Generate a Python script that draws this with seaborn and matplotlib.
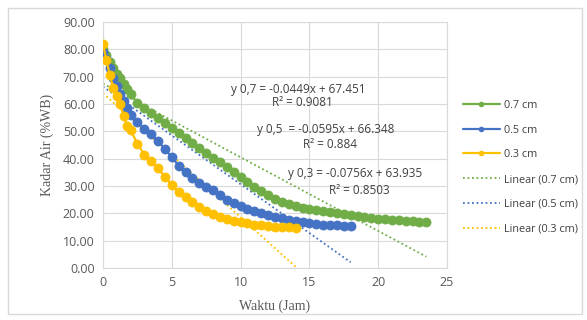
import numpy as np
import pandas as pd
import matplotlib
matplotlib.use("Agg")
import matplotlib.pyplot as plt
from matplotlib.lines import Line2D
from matplotlib.patches import Rectangle
import seaborn as sns

# ---------------------------------------------------------------
# data (time in hours, moisture in %WB)
# ---------------------------------------------------------------
SERIES = ["0.7 cm", "0.5 cm", "0.3 cm"]
COLORS = ["#70AD47", "#4472C4", "#FFC000"]

time_07 = [0, 0.25, 0.5, 0.75, 1, 1.25, 1.5, 1.75, 2, 2.5, 3, 3.5, 4, 4.5, 5, 5.5, 6, 6.5,
           7, 7.5, 8, 8.5, 9, 9.5, 10, 10.5, 11, 11.5, 12, 12.5, 13, 13.5, 14, 14.5, 15,
           15.5, 16, 16.5, 17, 17.5, 18, 18.5, 19, 19.5, 20, 20.5, 21, 21.5, 22, 22.5,
           23, 23.5]
kadar_07 = [80, 78, 75.5, 73, 71, 69.5, 67.5, 65.5, 63.5, 60.5, 58.5, 56.8, 55, 53.2, 51.3,
            49.4, 47.5, 45.6, 43.8, 42, 40.3, 38.6, 36.8, 35, 33.2, 31.5, 29.8, 28.2, 26.7,
            25.3, 24.2, 23.3, 22.6, 22, 21.5, 21.1, 20.8, 20.5, 20.1, 19.7, 19.3, 19, 18.7,
            18.4, 18.1, 17.8, 17.6, 17.4, 17.2, 17.1, 17, 16.9]

time_05 = [0, 0.25, 0.5, 0.75, 1, 1.25, 1.5, 1.75, 2, 2.5, 3, 3.5, 4, 4.5, 5, 5.5, 6, 6.5,
           7, 7.5, 8, 8.5, 9, 9.5, 10, 10.5, 11, 11.5, 12, 12.5, 13, 13.5, 14, 14.5, 15,
           15.5, 16, 16.5, 17, 17.5, 18]
kadar_05 = [79, 76.5, 73, 69.5, 66.5, 63.5, 61, 58.5, 56, 53.5, 51, 49, 46.5, 43.5, 40.5,
            37.5, 35, 32.8, 31, 29.8, 28.5, 26.8, 25, 23.6, 22.6, 21.7, 20.8, 20, 19.3,
            18.7, 18.2, 17.6, 17.1, 16.7, 16.3, 16, 15.8, 15.7, 15.6, 15.5, 15.4]

time_03 = [0, 0.25, 0.5, 0.75, 1, 1.25, 1.5, 1.75, 2, 2.5, 3, 3.5, 4, 4.5, 5, 5.5, 6, 6.5,
           7, 7.5, 8, 8.5, 9, 9.5, 10, 10.5, 11, 11.5, 12, 12.5, 13, 13.5, 14]
kadar_03 = [82, 76, 70.5, 66, 63, 60, 55.5, 52, 50.5, 45.5, 41.5, 39, 36.5, 33.3, 30.4,
            27.8, 25.8, 24, 22.5, 21, 19.7, 18.7, 17.8, 17.2, 16.7, 16.3, 15.9, 15.6, 15.3,
            15.1, 15, 14.9, 14.8]

# Excel trendlines (x in minutes)
trend_slope = [-0.0449, -0.0595, -0.0756]
trend_intercept = [67.451, 66.348, 63.935]
trend_r2 = ["0.9081", "0.884", "0.8503"]
trend_label = ["y 0,7 = -0.0449x + 67.451", "y 0,5  = -0.0595x + 66.348",
               "y 0,3 = -0.0756x + 63.935"]

X_TICKS = [0, 5, 10, 15, 20, 25]
Y_TICKS = [0, 10, 20, 30, 40, 50, 60, 70, 80, 90]

# ---------------------------------------------------------------
# build table
# ---------------------------------------------------------------
frames = []
for name, t, v in zip(SERIES, [time_07, time_05, time_03], [kadar_07, kadar_05, kadar_03]):
    frames.append(pd.DataFrame({"jam": t, "kadar": v, "tebal": name}))
df = pd.concat(frames, ignore_index=True)

sns.set_style("white")
plt.rcParams["font.family"] = ["Open Sans", "DejaVu Sans"]

fig = plt.figure(figsize=(5.87, 3.2), dpi=100)
ax = fig.add_axes([103 / 587, 1 - 268 / 320, 344 / 587, 246 / 320])

# outer chart border
fig.patches.append(Rectangle((8 / 587, 6 / 320), 574 / 587, 306 / 320, transform=fig.transFigure,
                             fill=False, edgecolor="#D9D9D9", linewidth=1.0))

# dotted trend lines first (under the markers)
for i, name in enumerate(SERIES):
    t_end = df.loc[df["tebal"] == name, "jam"].max()
    tt = np.array([0, t_end])
    yy = trend_intercept[i] + trend_slope[i] * tt * 60
    ax.plot(tt, yy, linestyle=(0, (1, 1.5)), color=COLORS[i], linewidth=1.3, zorder=2)

for i, name in enumerate(SERIES):
    sns.lineplot(data=df[df["tebal"] == name], x="jam", y="kadar", ax=ax, color=COLORS[i],
                 marker="o", markersize=6.5, markeredgewidth=0.6, markeredgecolor=COLORS[i],
                 linewidth=1.6, zorder=3, legend=False)

ax.set_xlim(0, 25)
ax.set_ylim(0, 90)
ax.set_xticks(X_TICKS)
ax.set_yticks(Y_TICKS)
ax.set_yticklabels([f"{v:.2f}" for v in Y_TICKS])
ax.tick_params(axis="both", labelsize=9, colors="#595959", length=0, pad=6)
ax.grid(True, color="#D9D9D9", linewidth=0.8)
for s in ax.spines.values():
    s.set_color("#D9D9D9")
    s.set_linewidth(0.8)

ax.set_xlabel("Waktu (Jam)", family="Liberation Serif", fontsize=10, color="#595959", labelpad=7)
ax.set_ylabel("Kadar Air (%WB)", family="Liberation Serif", fontsize=10, color="#595959",
              labelpad=6)

# trendline equations
eq_pos = [(298, 90, 103), (326, 129, 145), (355, 173, 190)]
for i, (xc, ye, yr) in enumerate(eq_pos):
    fig.text(xc / 587, 1 - ye / 320, trend_label[i], ha="center", va="center", fontsize=8.5,
             color="#404040")
    fig.text((xc + 4) / 587, 1 - yr / 320, "R² = " + trend_r2[i], ha="center", va="center",
             fontsize=8.5, color="#404040")

# legend
handles = []
labels = []
for i, name in enumerate(SERIES):
    handles.append(Line2D([], [], color=COLORS[i], linewidth=1.6, marker="o", markersize=4,
                          markeredgewidth=0))
    labels.append(name)
for i, name in enumerate(SERIES):
    handles.append(Line2D([], [], color=COLORS[i], linewidth=1.3, linestyle=(0, (1, 1.5))))
    labels.append("Linear (" + name + ")")
fig.legend(handles, labels, loc="upper left", bbox_to_anchor=(453 / 587, 1 - 90 / 320),
           frameon=False, fontsize=7.8, handlelength=3.4, labelspacing=1.27, handletextpad=0.4,
           labelcolor="#404040")

fig.savefig("out.png", dpi=100)
